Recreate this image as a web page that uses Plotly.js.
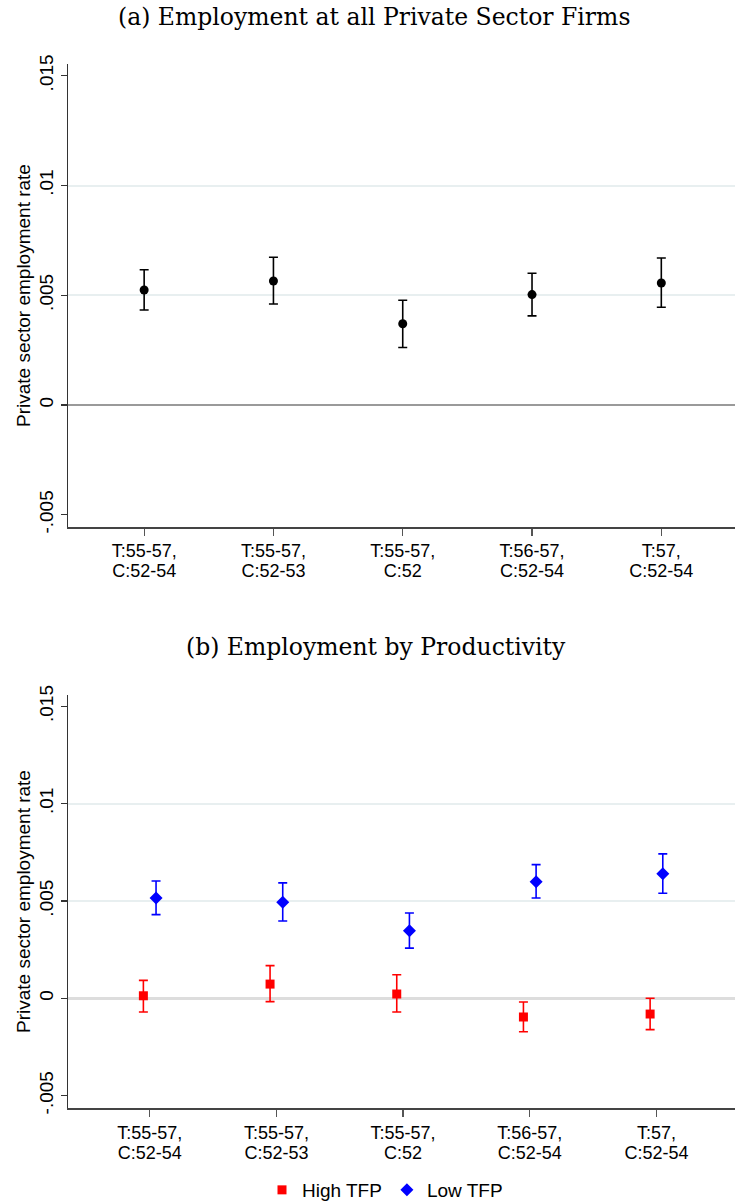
<!DOCTYPE html>
<html>
<head>
<meta charset="utf-8">
<script src="https://cdn.plot.ly/plotly-3.0.1.min.js"></script>
<style>html,body{margin:0;padding:0;background:#fff;}#chart{width:735px;height:1203px;}</style>
</head>
<body>
<div id="chart"></div>
<script>
// ---- data ----
const categoryIndex = [1, 2, 3, 4, 5];
const tickLine1 = ['T:55-57,', 'T:55-57,', 'T:55-57,', 'T:56-57,', 'T:57,'];
const tickLine2 = ['C:52-54', 'C:52-53', 'C:52', 'C:52-54', 'C:52-54'];

const allEst = [0.00524, 0.00565, 0.00370, 0.00503, 0.00556];
const allLo  = [0.00433, 0.00460, 0.00262, 0.00406, 0.00445];
const allHi  = [0.00616, 0.00673, 0.00477, 0.00600, 0.00670];

const highEst = [0.00013, 0.00073, 0.00022, -0.00096, -0.00081];
const highLo  = [-0.00070, -0.00017, -0.00070, -0.00172, -0.00161];
const highHi  = [0.00092, 0.00168, 0.00121, -0.00019, 0.00000];

const lowEst = [0.00515, 0.00493, 0.00347, 0.00599, 0.00640];
const lowLo  = [0.00430, 0.00397, 0.00258, 0.00515, 0.00540];
const lowHi  = [0.00603, 0.00593, 0.00438, 0.00687, 0.00742];

const yTickVals = [-0.005, 0, 0.005, 0.01, 0.015];
const yTickText = ['-.005', '0', '.005', '.01', '.015'];
const gridVals = [0.005, 0.01];

const seriesNames = ['High TFP', 'Low TFP'];
const panelTitles = ['(a) Employment at all Private Sector Firms', '(b) Employment by Productivity'];
const yTitle = 'Private sector employment rate';

// ---- helpers ----
const up = (hi, est) => hi.map((h, i) => h - est[i]);
const down = (lo, est) => est.map((e, i) => e - lo[i]);
const shift = (arr, d) => arr.map(v => v + d);
const blanks = categoryIndex.map(() => null);

const SANS = 'Liberation Sans, Arial, sans-serif';
const SERIF = 'DejaVu Serif, serif';
const H = 1203, L = 68, PW = 735 - L;

const traces = [
  {
    x: categoryIndex, y: allEst, xaxis: 'x', yaxis: 'y', type: 'scatter', mode: 'markers',
    showlegend: false,
    marker: {color: '#000', size: 9, symbol: 'circle'},
    error_y: {type: 'data', symmetric: false, array: up(allHi, allEst), arrayminus: down(allLo, allEst),
              color: '#000', thickness: 1.6, width: 4.5}
  },
  {
    x: shift(categoryIndex, -0.05), y: highEst, xaxis: 'x2', yaxis: 'y2', type: 'scatter', mode: 'markers',
    name: seriesNames[0],
    marker: {color: '#ff0000', size: 9, symbol: 'square'},
    error_y: {type: 'data', symmetric: false, array: up(highHi, highEst), arrayminus: down(highLo, highEst),
              color: '#ff0000', thickness: 1.6, width: 4.5}
  },
  {
    x: shift(categoryIndex, 0.05), y: lowEst, xaxis: 'x2', yaxis: 'y2', type: 'scatter', mode: 'markers',
    name: seriesNames[1],
    marker: {color: '#0000ff', size: 10, symbol: 'diamond'},
    error_y: {type: 'data', symmetric: false, array: up(lowHi, lowEst), arrayminus: down(lowLo, lowEst),
              color: '#0000ff', thickness: 1.6, width: 4.5}
  },
  // empty carriers for the second line of the category labels
  {x: categoryIndex, y: blanks, xaxis: 'x3', yaxis: 'y', type: 'scatter', mode: 'markers',
   showlegend: false, hoverinfo: 'skip'},
  {x: categoryIndex, y: blanks, xaxis: 'x4', yaxis: 'y2', type: 'scatter', mode: 'markers',
   showlegend: false, hoverinfo: 'skip'}
];

const xTickFont = {family: SANS, size: 18, color: '#000'};
const yTickFont = {family: SANS, size: 19, color: '#000'};

function xMain(anchor, range) {
  return {
    domain: [0, 1], anchor: anchor, range: range,
    tickmode: 'array', tickvals: categoryIndex, ticktext: tickLine1,
    ticks: 'outside', ticklen: 7, tickwidth: 1.3, tickcolor: '#555',
    showline: true, linecolor: '#444', linewidth: 2,
    showgrid: false, zeroline: false, tickfont: xTickFont, fixedrange: true
  };
}
function xSecond(overlay, anchor, range) {
  return {
    overlaying: overlay, anchor: anchor, side: 'bottom', range: range,
    tickmode: 'array', tickvals: categoryIndex, ticktext: tickLine2,
    ticks: 'outside', ticklen: 7, tickwidth: 1, tickcolor: 'rgba(0,0,0,0)',
    ticklabelstandoff: 21,
    showline: false, showgrid: false, zeroline: false, tickfont: xTickFont, fixedrange: true
  };
}
function yAx(domain, anchor, range, zcolor, zwidth, gcolor) {
  return {
    domain: domain, anchor: anchor, range: range,
    tickmode: 'array', tickvals: yTickVals, ticktext: yTickText, tickangle: -90,
    ticks: 'outside', ticklen: 6, tickwidth: 1.2, tickcolor: '#333',
    showline: true, linecolor: '#333', linewidth: 1.2,
    showgrid: false,
    minor: {tickmode: 'array', tickvals: gridVals, showgrid: true, gridcolor: gcolor, gridwidth: 2, ticks: ''},
    zeroline: true, zerolinecolor: zcolor, zerolinewidth: zwidth,
    tickfont: yTickFont, fixedrange: true
  };
}

const yTitleAnn = (cy) => ({
  text: yTitle, xref: 'paper', yref: 'paper', x: (23 - L) / PW, y: 1 - cy / H,
  xanchor: 'center', yanchor: 'middle', textangle: -90, showarrow: false,
  font: {family: SANS, size: 19, color: '#000'}
});

const layout = {
  width: 735, height: H,
  margin: {l: L, r: 0, t: 0, b: 0, autoexpand: false},
  paper_bgcolor: '#fff', plot_bgcolor: '#fff',
  font: {family: SANS, size: 19, color: '#000'},
  xaxis: xMain('y', [0.411, 5.57]),
  xaxis3: xSecond('x', 'y', [0.411, 5.57]),
  yaxis: yAx([1 - 526.7 / H, 1 - 64 / H], 'x', [-0.005544, 0.015535], '#9a9a9a', 2, '#e8eff0'),
  xaxis2: xMain('y2', [0.355, 5.62]),
  xaxis4: xSecond('x2', 'y2', [0.355, 5.62]),
  yaxis2: yAx([1 - 1108.3 / H, 1 - 695 / H], 'x2', [-0.005651, 0.015582], '#dddddd', 2.5, '#e8eff0'),
  showlegend: true,
  legend: {orientation: 'h', xref: 'container', yref: 'container',
           x: 385 / 735, xanchor: 'center', y: 1 - 1190 / H, yanchor: 'middle',
           font: {family: SANS, size: 19, color: '#000'}, bgcolor: 'rgba(0,0,0,0)', itemwidth: 30},
  annotations: [
    {text: panelTitles[0], xref: 'paper', yref: 'paper', x: (374 - L) / PW, y: 1 - 17 / H,
     xanchor: 'center', yanchor: 'middle', showarrow: false, font: {family: SERIF, size: 23.5, color: '#000'}},
    {text: panelTitles[1], xref: 'paper', yref: 'paper', x: (376 - L) / PW, y: 1 - 647 / H,
     xanchor: 'center', yanchor: 'middle', showarrow: false, font: {family: SERIF, size: 23.5, color: '#000'}},
    yTitleAnn(296),
    yTitleAnn(902)
  ]
};

Plotly.newPlot('chart', traces, layout, {displayModeBar: false, staticPlot: true});
</script>
</body>
</html>
